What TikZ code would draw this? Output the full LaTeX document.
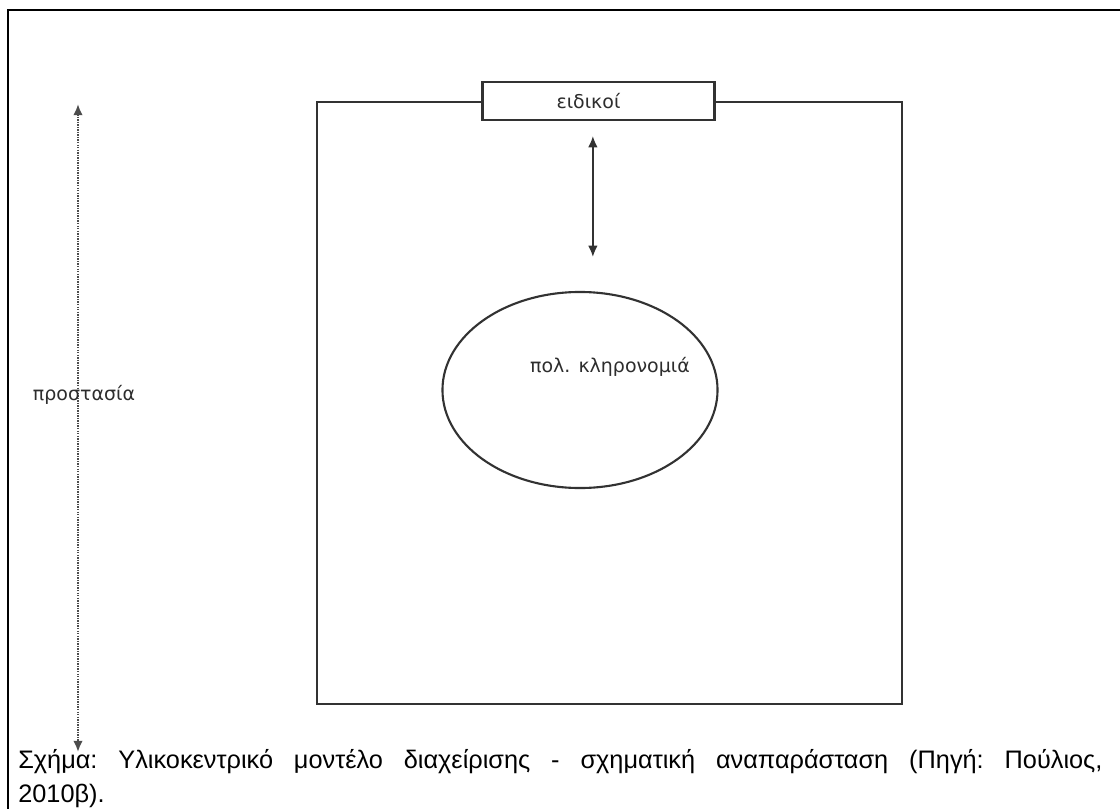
\documentclass[tikz,border=0pt]{standalone}
\usepackage{fontspec}
\setmainfont{Liberation Sans}
\newfontfamily\labelfont{DejaVu Sans}
\usetikzlibrary{shapes,arrows,arrows.meta,positioning}
\definecolor{linegray}{RGB}{50,50,50}
\definecolor{textgray}{RGB}{45,45,45}

\begin{document}
\begin{tikzpicture}[x=0.025cm, y=-0.025cm,
    labeltext/.style={font=\labelfont\fontsize{13.5}{15}\selectfont, text=textgray},
    twotip/.style={{Latex[length=0.28cm,width=0.24cm]}-{Latex[length=0.28cm,width=0.24cm]}}]
        \useasboundingbox (0,0) rectangle (1120,809);

        % Page frame (left and top edge)
        \draw[line width=1.5pt] (1120,10) -- (8,10) -- (8,809);

        % Outer box
        \draw[linegray, line width=1.5pt] (317,102) rectangle (902,704);

        % Experts on the top edge
        \node[draw=linegray, line width=1.5pt, fill=white, minimum width=5.8cm, minimum height=0.95cm, labeltext] (experts) at (598.5,101) {ειδικοί\hspace*{0.5cm}};

        % Heritage
        \node[draw=linegray, line width=1.5pt, ellipse, minimum width=6.875cm, minimum height=4.9cm, inner sep=0pt,
              label={[labeltext, xshift=0.75cm, yshift=0.575cm]center:πολ. κληρονομιά}] (heritage) at (580,390) {};
        \draw[twotip, linegray, line width=1.2pt, shorten <=0.375cm, shorten >=0.85cm] ([xshift=-0.14cm]experts.south) -- ([xshift=-0.14cm]experts.south |- heritage.north);

        % Protection
        \coordinate (protTop) at (78,104);
        \coordinate (protBot) at (78,752);
        \draw[twotip, dash pattern=on 1pt off 0.8pt, line width=1.5pt, black!70] (protTop) -- (protBot);
        \node[labeltext] (protection) at (84,395) {προστασία};

        % Caption
        \node[anchor=north west, inner sep=0pt, text width=27.1cm, align=justify, font=\fontsize{18}{24}\selectfont\frenchspacing] (caption) at (18,749) {Σχήμα: Υλικοκεντρικό μοντέλο διαχείρισης - σχηματική αναπαράσταση (Πηγή: Πούλιος,\linebreak 2010β).};
    \end{tikzpicture}
\end{document}
